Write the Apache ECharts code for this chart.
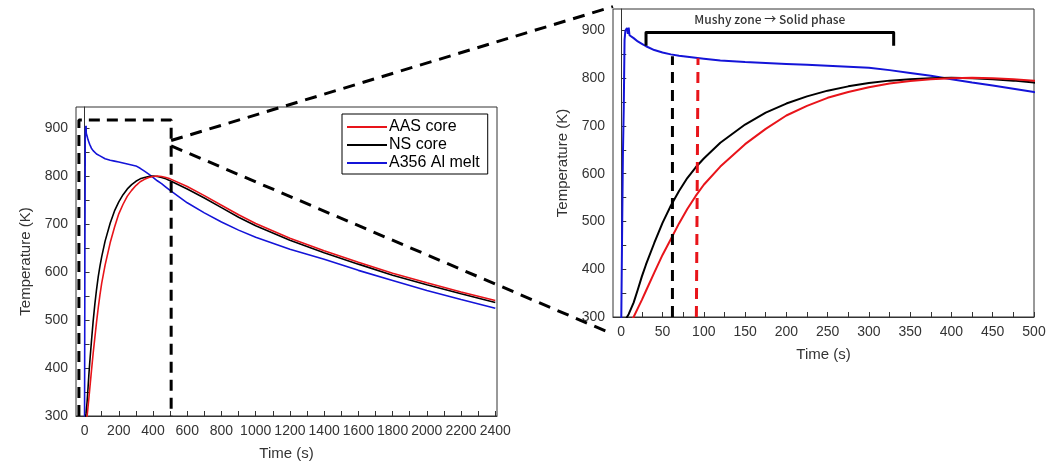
<!DOCTYPE html>
<html>
<head>
<meta charset="utf-8">
<script src="https://cdn.jsdelivr.net/npm/echarts@6/dist/echarts.min.js"></script>
<style>
  html, body { margin: 0; padding: 0; background: #fff; }
  #main { width: 1059px; height: 462px; }
</style>
</head>
<body>
<div id="main"></div>
<script>
// time in s, temperatures in K
const time = [0, 1, 2, 3, 4, 5, 6, 7, 8, 9, 10, 12, 15, 20, 25, 30, 40, 50, 60, 70, 80, 90, 100,
  120, 150, 175, 200, 225, 250, 275, 300, 325, 350, 375, 400, 425, 450, 475, 500,
  600, 700, 800, 900, 1000, 1200, 1400, 1600, 1800, 2000, 2200, 2400]

const aasCore = [270, 270, 271, 272, 273, 275, 277, 279, 281, 283, 285, 292, 300, 318, 336, 355, 393, 430, 463, 496, 526, 553, 577,
  615, 662, 694, 722, 742, 759, 771, 781, 789, 794, 798, 800, 801, 800, 798, 795,
  779, 760, 740, 720, 702, 671, 645, 621, 598, 578, 559, 541]

const nsCore = [280, 281, 282, 285, 288, 292, 296, 300, 303, 306, 310, 318, 330, 357, 385, 410, 455, 497, 533, 564, 591, 613, 632,
  665, 703, 728, 747, 762, 774, 783, 790, 795, 798, 800, 801, 800, 798, 795, 791,
  774, 755, 735, 715, 697, 667, 641, 617, 594, 574, 555, 537]

const meltTemp = [290, 470, 640, 735, 880, 900, 896, 905, 893, 906, 890, 887, 884, 877, 872, 867, 859, 854, 850, 847, 845, 843, 841,
  837, 834, 832, 830, 828, 826, 824, 822, 817, 811, 805, 798, 791, 785, 778, 771,
  745, 724, 705, 688, 673, 648, 627, 604, 583, 562, 543, 525]

const xLabelsFull = [0, 200, 400, 600, 800, 1000, 1200, 1400, 1600, 1800, 2000, 2200, 2400]
const xLabelsZoom = [0, 50, 100, 150, 200, 250, 300, 350, 400, 450, 500]
const yLabels = [300, 400, 500, 600, 700, 800, 900]

// annotations (data units)
const zoomBoxX = [-33, 506]
const zoomBoxY = [300, 918]
const solidNS = [62, 846]
const solidAAS = [93, 842]
const bracketX = [30, 330]
const bracketY = [868, 896]
const bracketText = 'Mushy zone → Solid phase'

const pairs = arr => time.map((t, i) => [t, arr[i]])
const range = (a, b, s) => { const r = []; for (let v = a; v <= b; v += s) r.push(v); return r }

const myChart = echarts.init(document.getElementById('main'))

const txt = '#333'
const font = 'Liberation Sans, Arial, sans-serif'

function xAxis(idx, min, max, labels, tickStep) {
  return {
    type: 'value', gridIndex: idx, min: min, max: max,
    name: 'Time (s)', nameLocation: 'middle', nameGap: 30,
    nameTextStyle: { color: txt, fontSize: 15, fontFamily: font },
    axisLine: { show: true, lineStyle: { color: '#333', width: 1 } },
    axisTick: { show: true, inside: true, length: 5, customValues: range(0, 2400, tickStep).filter(v => v <= max), lineStyle: { color: '#333' } },
    axisLabel: { customValues: labels, color: txt, fontSize: 14, fontFamily: font, margin: 8, hideOverlap: false, formatter: v => String(v) },
    splitLine: { show: false }
  }
}

function yAxis(idx) {
  return {
    type: 'value', gridIndex: idx, min: 300, max: 945,
    name: 'Temperature (K)', nameLocation: 'middle', nameGap: 43,
    nameTextStyle: { color: txt, fontSize: 15, fontFamily: font },
    axisLine: { show: true, lineStyle: { color: '#333', width: 1 } },
    axisTick: { show: true, inside: true, length: 5, customValues: range(300, 900, 50), lineStyle: { color: '#333' } },
    axisLabel: { customValues: yLabels, color: txt, fontSize: 14, fontFamily: font, margin: 8, formatter: v => String(v) },
    splitLine: { show: false }
  }
}

function curves(idx, w) {
  return [
    { name: 'A356 Al melt', data: pairs(meltTemp), color: '#1414d8' },
    { name: 'NS core', data: pairs(nsCore), color: '#000000' },
    { name: 'AAS core', data: pairs(aasCore), color: '#e8141a' }
  ].map(s => ({
    name: s.name, type: 'line', xAxisIndex: idx, yAxisIndex: idx,
    data: s.data, showSymbol: false, symbol: 'none', smooth: false,
    color: s.color, lineStyle: { color: s.color, width: w }, clip: true, z: 3
  }))
}

const dashed = (data, color, idx) => ({
  type: 'line', xAxisIndex: idx, yAxisIndex: idx, data: data,
  symbol: 'none', silent: true, clip: false, z: 5,
  lineStyle: { color: color, width: 3, type: [11, 7] }
})

myChart.setOption({
  animation: false,
  textStyle: { fontFamily: font },
  grid: [
    { left: 76, top: 107, width: 421, height: 309, show: true, borderColor: '#333', borderWidth: 1, outerBoundsMode: 'none' },
    { left: 613, top: 9, width: 421, height: 308, show: true, borderColor: '#333', borderWidth: 1, outerBoundsMode: 'none' }
  ],
  legend: {
    data: ['AAS core', 'NS core', 'A356 Al melt'],
    orient: 'vertical', left: 342, top: 114,
    borderColor: '#000', borderWidth: 1, padding: [5, 8, 3, 5],
    itemGap: 2, itemWidth: 40, itemHeight: 2, icon: 'rect',
    textStyle: { color: '#000', fontSize: 16, fontFamily: font, padding: [0, 0, 0, -3] }
  },
  xAxis: [xAxis(0, -50, 2410, xLabelsFull, 100), xAxis(1, -10, 500, xLabelsZoom, 25)],
  yAxis: [yAxis(0), yAxis(1)],
  series: [
    ...curves(0, 1.6),
    ...curves(1, 2),
    dashed([[zoomBoxX[0], zoomBoxY[0]], [zoomBoxX[0], zoomBoxY[1]], [zoomBoxX[1], zoomBoxY[1]], [zoomBoxX[1], zoomBoxY[0]]], '#000', 0),
    dashed([[solidNS[0], 300], [solidNS[0], solidNS[1]]], '#000', 1),
    dashed([[solidAAS[0] - 2, 300], [solidAAS[0], solidAAS[1]]], '#e8141a', 1),
    {
      type: 'line', xAxisIndex: 1, yAxisIndex: 1, symbol: 'none', silent: true, clip: false, z: 5,
      data: [[bracketX[0], bracketY[0]], [bracketX[0], bracketY[1]], [bracketX[1], bracketY[1]], [bracketX[1], bracketY[0]]],
      lineStyle: { color: '#000', width: 3, join: 'round' }
    }
  ]
})

// connector lines between the zoom box and the detail chart
const px = (idx, pt) => myChart.convertToPixel({ xAxisIndex: idx, yAxisIndex: idx }, pt)
const a1 = px(0, [zoomBoxX[1], 875]), b1 = px(1, [-10, 950])
const a2 = px(0, [zoomBoxX[1], 864]), b2 = px(1, [-14, 267])
const lab = px(1, [(bracketX[0] + bracketX[1]) / 2, 923])
const conn = (a, b) => ({
  type: 'line', silent: true, z: 10,
  shape: { x1: a[0], y1: a[1], x2: b[0], y2: b[1] },
  style: { stroke: '#000', lineWidth: 3, lineDash: [12, 8] }
})
myChart.setOption({
  graphic: [
    conn(a1, b1),
    conn(a2, b2),
    {
      type: 'text', x: lab[0], y: lab[1], silent: true,
      style: { text: bracketText, fill: '#333', font: '500 12px "Noto Sans CJK KR", sans-serif', align: 'center', verticalAlign: 'middle' }
    }
  ]
})
</script>
</body>
</html>
